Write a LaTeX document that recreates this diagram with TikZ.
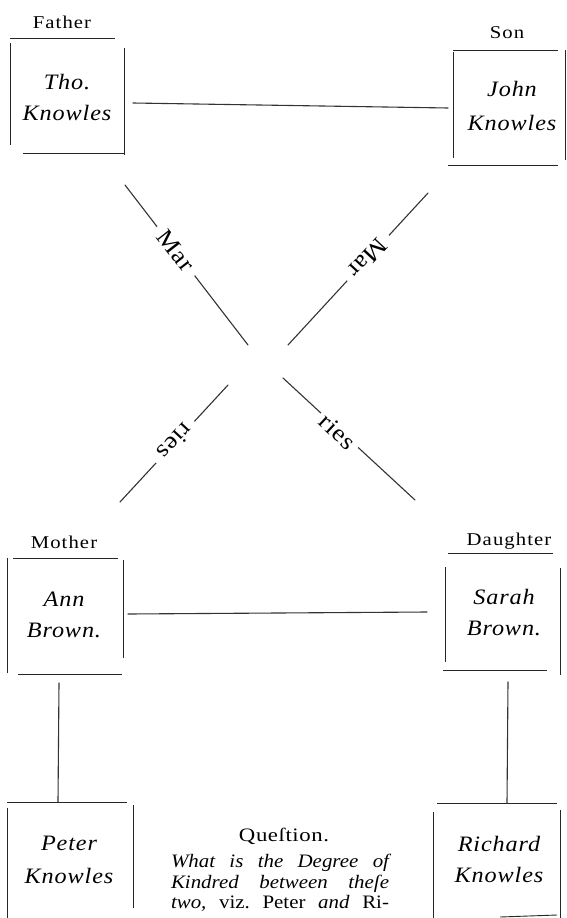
\documentclass[tikz,border=0pt]{standalone}
\usepackage{fontspec}
\setmainfont{Liberation Serif}
\newfontfamily\labfont[FakeStretch=1.15,LetterSpace=6]{Liberation Serif}
\newfontfamily\wedfont[FakeStretch=1.1,LetterSpace=3]{Liberation Serif}
\newfontfamily\namefont[FakeStretch=1.1,LetterSpace=4]{Liberation Serif}
\newfontfamily\qfont[FakeStretch=1.1]{Liberation Serif}
\newfontfamily\qhfont[FakeStretch=1.2,LetterSpace=3]{Liberation Serif}
\begin{document}
\begin{tikzpicture}[x=1pt,y=-1pt,
  side/.style={line width=0.9pt,draw=black!85},
  conn/.style={line width=1.1pt,draw=black!80,line cap=round},
  role/.style={font=\labfont\fontsize{18}{20}\selectfont,inner sep=0pt},
  person/.style={font=\namefont\itshape\fontsize{22}{31}\selectfont,align=center,inner sep=0pt},
  wed/.style={font=\wedfont\fontsize{24}{26}\selectfont,fill=white,inner xsep=8pt,inner ysep=2pt},
  qline/.style={font=\qfont\fontsize{19}{20}\selectfont,inner sep=0pt,anchor=base}]
\useasboundingbox (0,0) rectangle (567,918);
\fill[white] (0,0) rectangle (567,918);

% role labels
\node[role] (lfather) at (62,22) {Father};
\node[role] (lson) at (507,33) {Son};
\node[role] (lmother) at (64,542) {Mother};
\node[role] (ldaughter) at (509,541) {Daughter};

% persons
\node[person] (tho) at (67,97) {Tho.\\Knowles};
\node[person] (john) at (512,106) {John\\[3pt]Knowles};
\node[person] (ann) at (64,615) {Ann\\Brown.};
\node[person] (sarah) at (504,613) {Sarah\\Brown.};
\node[person] (peter) at (69,860) {Peter\\[2pt]Knowles};
\node[person] (richard) at (499,859) {Richard\\Knowles};

% boxes
% Father
\draw[side] (10,38) -- (115,38);
\draw[side] (10,43) -- (10,145);
\draw[side] (124,48) -- (124,155);
\draw[side] (23,153) -- (125,153);
% Son
\draw[side] (453,50) -- (558,50);
\draw[side] (453,52) -- (453,158);
\draw[side] (565,50) -- (565,160);
\draw[side] (448,165) -- (558,165);
% Mother
\draw[side] (13,558) -- (118,558);
\draw[side] (7,558) -- (7,673);
\draw[side] (123,560) -- (123,658);
\draw[side] (18,674) -- (122,674);
% Daughter
\draw[side] (448,553) -- (553,553);
\draw[side] (445,567) -- (445,662);
\draw[side] (560,568) -- (560,675);
\draw[side] (443,670) -- (547,670);
% Peter
\draw[side] (7,802) -- (127,802);
\draw[side] (7,808) -- (7,918);
\draw[side] (133,805) -- (133,908);
% Richard
\draw[side] (437,803) -- (557,803);
\draw[side] (433,812) -- (433,918);
\draw[side] (560,810) -- (560,918);
\draw[side] (500,917) -- (557,915);

% connectors
\coordinate (fs1) at (133,103);
\coordinate (fs2) at (448,108);
\draw[conn] (fs1) -- (fs2);
\coordinate (md1) at (128,614);
\coordinate (md2) at (427,612);
\draw[conn] (md1) -- (md2);
\coordinate (mp1) at (59,683);
\coordinate (mp2) at (58,802);
\draw[conn] (mp1) -- (mp2);
\coordinate (dr1) at (508,682);
\coordinate (dr2) at (507,803);
\draw[conn] (dr1) -- (dr2);

% the crossing: Marries
\coordinate (tl1) at (125,185);
\coordinate (tl2) at (248,345);
\coordinate (tr1) at (428,193);
\coordinate (tr2) at (288,345);
\coordinate (bl1) at (228,385);
\coordinate (bl2) at (120,502);
\coordinate (br1) at (283,378);
\coordinate (br2) at (415,500);
\draw[conn] (tl1) -- (tl2);
\draw[conn] (tr1) -- (tr2);
\draw[conn] (bl1) -- (bl2);
\draw[conn] (br1) -- (br2);
\node[wed,rotate=-52] (mar1) at (176,251) {Mar};
\node[wed,rotate=227] (mar2) at (368,258) {Mar};
\node[wed,rotate=227] (ries1) at (175,442) {ries};
\node[wed,rotate=-43,inner xsep=5pt] (ries2) at (338,432) {ries};

% question
\node[qline,font=\qhfont\fontsize{19}{20}\selectfont] (qhead) at (284,841) {Queſtion.};
\node[qline] (q1) at (280,867) {\hbox to 218pt{\itshape What\hfill is\hfill the\hfill Degree\hfill of}};
\node[qline] (q2) at (280,888) {\hbox to 218pt{\itshape Kindred\hfill between\hfill theſe}};
\node[qline] (q3) at (280,908) {\hbox to 218pt{\textit{two,}\hfill viz.\hfill Peter\hfill \textit{and}\hfill Ri-}};
\end{tikzpicture}
\end{document}
